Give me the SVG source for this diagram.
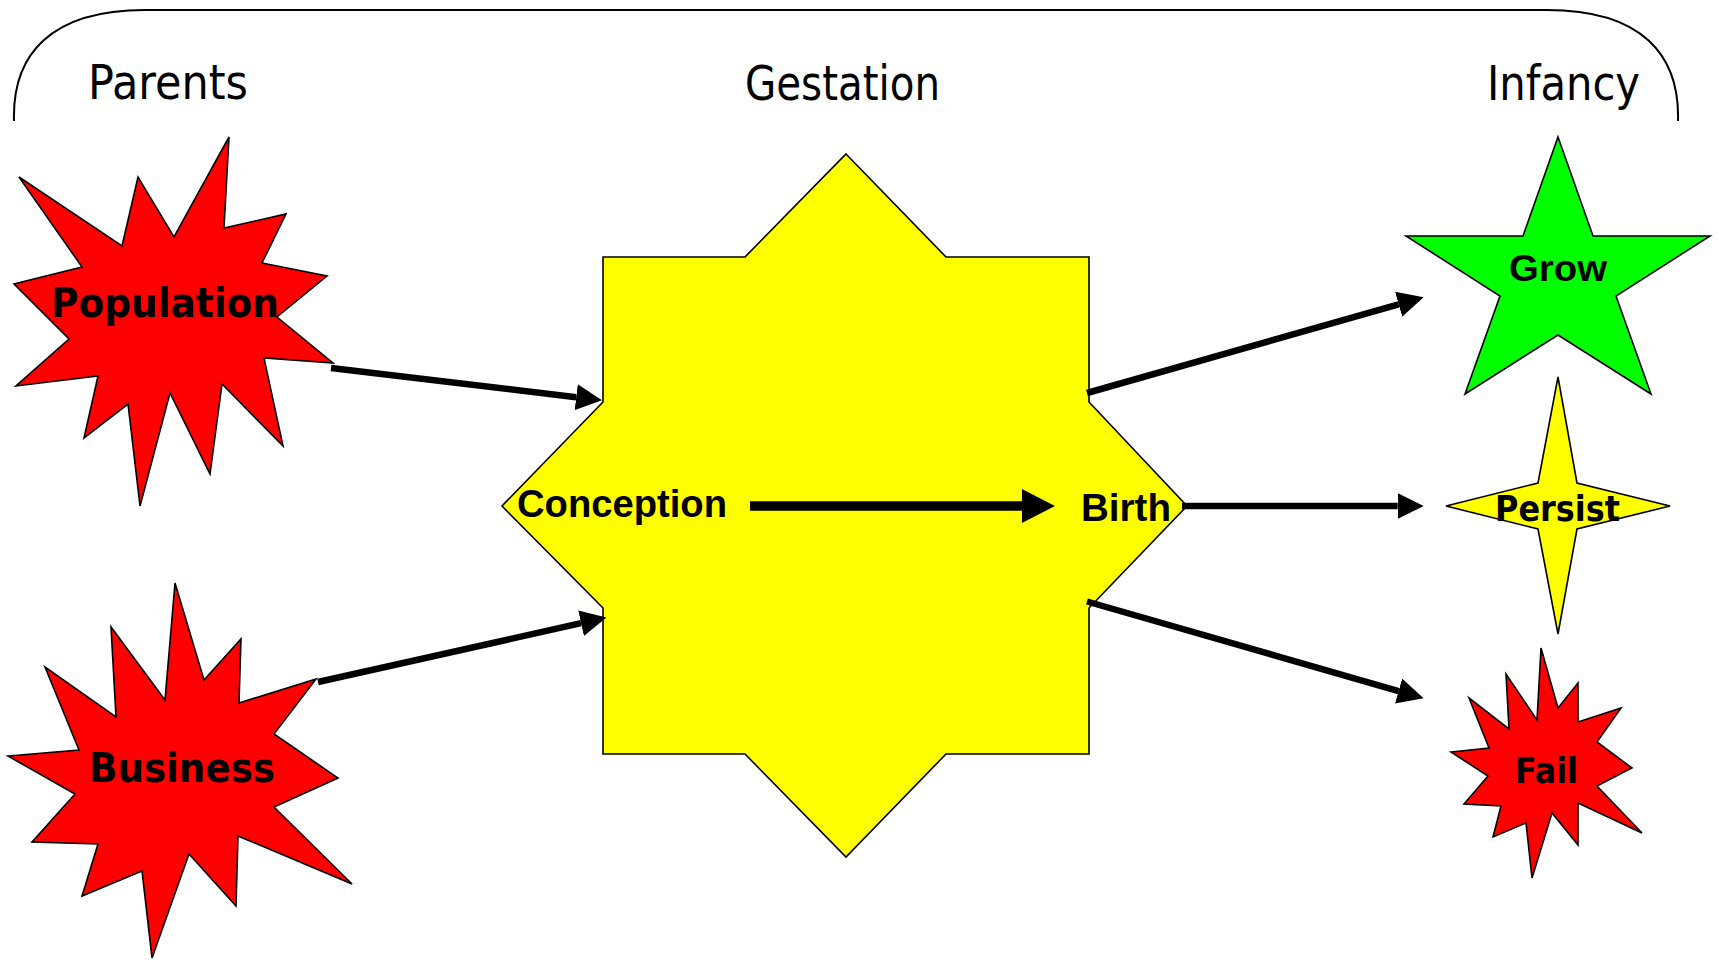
<svg xmlns="http://www.w3.org/2000/svg" width="1718" height="960" viewBox="0 0 1718 960">
  <defs>
    <style>
      .shape { stroke: #000; stroke-width: 1.6; stroke-linejoin: miter; }
      .red { fill: #ff0000; }
      .yellow { fill: #ffff00; }
      .green { fill: #00ff00; }
      .hdr { font-family: "DejaVu Sans", "Liberation Sans", sans-serif; font-size: 48px; fill: #000; }
      .lblA { font-family: "DejaVu Sans", "Liberation Sans", sans-serif; font-weight: bold; fill: #000; }
      .lblB { font-family: "Liberation Sans", Arial, sans-serif; font-weight: bold; fill: #000; }
      .link { stroke: #000; stroke-width: 6.5; fill: none; }
      .main { stroke: #000; stroke-width: 9.5; fill: none; }
    </style>
    <marker id="head" markerUnits="userSpaceOnUse" markerWidth="26" markerHeight="26" viewBox="0 0 24 24" refX="0" refY="12" orient="auto">
      <path d="M0,0 L24,12 L0,24 Z" fill="#000"/>
    </marker>
    <marker id="headBig" markerUnits="userSpaceOnUse" markerWidth="33" markerHeight="34" viewBox="0 0 31 32" refX="0" refY="16" orient="auto">
      <path d="M0,0 L31,16 L0,32 Z" fill="#000"/>
    </marker>
  </defs>

  <rect width="1718" height="960" fill="#fff"/>

  <!-- stage bracket and headings -->
  <g id="stages">
    <path d="M14,121 C12,55 50,10 145,10 L1547,10 C1642,10 1680,55 1678,121" fill="none" stroke="#000" stroke-width="2"/>
    <text class="hdr" x="88" y="99" textLength="160" lengthAdjust="spacingAndGlyphs">Parents</text>
    <text class="hdr" x="745" y="100" textLength="195" lengthAdjust="spacingAndGlyphs">Gestation</text>
    <text class="hdr" x="1487" y="100" textLength="153" lengthAdjust="spacingAndGlyphs">Infancy</text>
  </g>

  <g id="population">
    <polygon class="shape red" points="19,177 122,246 138,177 174,237 229,137 224,228 286,214 262,263 327,276 277,317 333,363 264,358 283,446 222,384 210,474 170,393 140,506 128,404 84,438 98,376 16,386 69,339 14,284 82,267"/>
    <text class="lblA" x="51" y="317" font-size="40" textLength="228" lengthAdjust="spacingAndGlyphs">Population</text>
  </g>

  <g id="business">
    <polygon class="shape red" points="175,583 204,680 241,639 239,703 316,679 274,734 338,778 274,807 352,884 238,836 236,906 189,854 152,958 142,871 82,896 98,844 32,842 75,794 8,756 79,750 45,667 116,717 111,627 165,700"/>
    <text class="lblA" x="89" y="782" font-size="41" textLength="186" lengthAdjust="spacingAndGlyphs">Business</text>
  </g>

  <g id="gestation">
    <polygon class="shape yellow" points="846,154 946,257 1089,257 1089,402 1187,506 1089,608 1089,754 946,754 846,857 745,754 603,754 603,608 502,506 603,402 603,257 745,257"/>
    <text class="lblB" x="517" y="517" font-size="38" textLength="210" lengthAdjust="spacingAndGlyphs">Conception</text>
    <text class="lblB" x="1081" y="521" font-size="38.5" textLength="90" lengthAdjust="spacingAndGlyphs">Birth</text>
  </g>

  <g id="grow">
    <polygon class="shape green" points="1558,137 1593,236 1710,236 1616,296 1651,394 1558,335 1465,394 1500,296 1406,236 1523,236"/>
    <text class="lblB" x="1509" y="281" font-size="37" textLength="98" lengthAdjust="spacingAndGlyphs">Grow</text>
  </g>

  <g id="persist">
    <polygon class="shape yellow" points="1558,377 1577,483 1670,506 1577,529 1558,634 1538,529 1446,506 1538,483"/>
    <text class="lblA" x="1495" y="521" font-size="35" textLength="125" lengthAdjust="spacingAndGlyphs">Persist</text>
  </g>

  <g id="fail">
    <polygon class="shape red" points="1541,648 1558,708 1578,683 1578,722 1621,708 1597,742 1632,768 1597,786 1642,833 1578,803 1578,845 1552,813 1532,878 1526,823 1493,837 1501,806 1464,804 1488,776 1451,752 1489,748 1469,698 1509,729 1506,674 1537,720"/>
    <text class="lblA" x="1515" y="783" font-size="35" textLength="63" lengthAdjust="spacingAndGlyphs">Fail</text>
  </g>

  <g id="connectors">
    <path class="link" d="M331,368 L576.2,397.2" marker-end="url(#head)"/>
    <path class="link" d="M318,682 L581.1,623.2" marker-end="url(#head)"/>
    <path class="main" d="M750,506 L1022,506" marker-end="url(#headBig)"/>
    <path class="link" d="M1087,393 L1398.6,304.3" marker-end="url(#head)"/>
    <path class="link" d="M1182,506 L1397.7,506" marker-end="url(#head)"/>
    <path class="link" d="M1087,601.5 L1398.6,691.1" marker-end="url(#head)"/>
  </g>
</svg>
